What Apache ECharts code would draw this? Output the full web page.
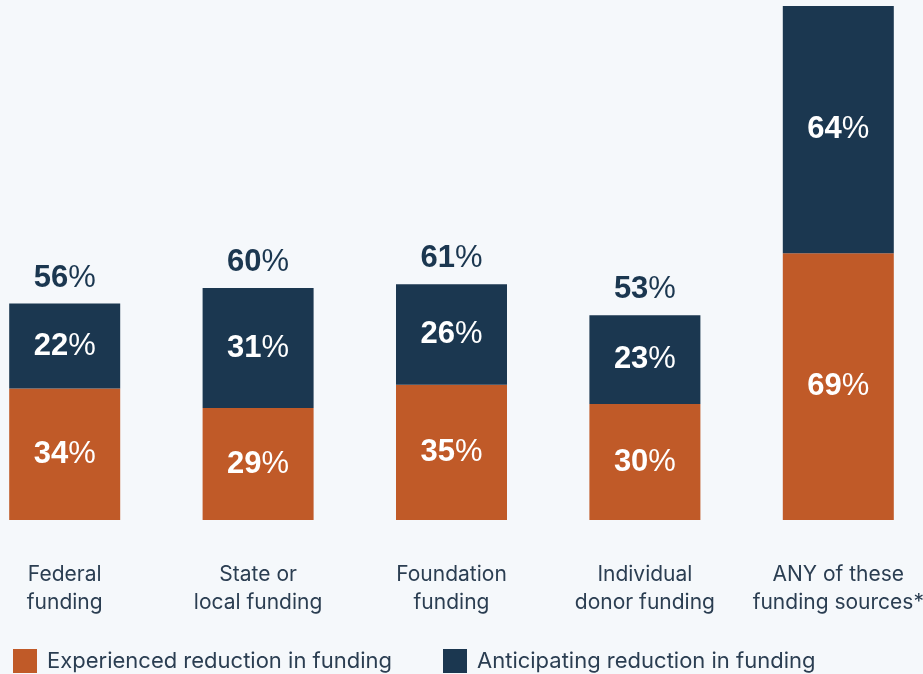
<!DOCTYPE html>
<html>
<head>
    <meta charset="utf-8">
    <title>Funding reductions</title>
    <script src="https://cdn.jsdelivr.net/npm/echarts@6/dist/echarts.min.js"></script>
    <style>
        html, body { margin: 0; padding: 0; background: #F5F8FB; }
    </style>
</head>
<body>
    <div id="main" style="width:923px;height:674px;"></div>
    <script type="text/javascript">
        // data
        var categories = ["Federal\nfunding", "State or\nlocal funding", "Foundation\nfunding", "Individual\ndonor funding", "ANY of these\nfunding sources*"];
        var experienced = [34, 29, 35, 30, 69];
        var anticipating = [22, 31, 26, 23, 64];
        var totals = [56, 60, 61, 53, null];

        var orange = "#C05A28";
        var navy = "#1B3750";
        var textColor = "#2B3E52";
        var numFont = "Liberation Sans";

        function pctRich(color) {
            return {
                b: { color: color, fontSize: 31, fontWeight: "bold", fontFamily: numFont },
                p: { color: color, fontSize: 31, fontWeight: "normal", fontFamily: numFont }
            };
        }

        function pctLabel(color) {
            return {
                show: true,
                position: "inside",
                formatter: function (p) { return "{b|" + p.value + "}{p|%}"; },
                rich: pctRich(color)
            };
        }

        var myChart = echarts.init(document.getElementById("main"));
        var option = {
            backgroundColor: "#F5F8FB",
            animation: false,
            grid: { left: -32, right: -12, top: 6, bottom: 154, outerBoundsMode: "none", containLabel: false },
            legend: {
                bottom: -4,
                left: 8,
                itemWidth: 24,
                itemHeight: 24,
                itemGap: 51,
                icon: "rect",
                textStyle: { color: textColor, fontSize: 22, fontFamily: "Inter", padding: [0, 0, 0, 5] },
                data: ["Experienced reduction in funding", "Anticipating reduction in funding"]
            },
            xAxis: {
                type: "category",
                data: categories,
                axisLine: { show: false },
                axisTick: { show: false },
                axisLabel: {
                    color: textColor,
                    fontSize: 21,
                    fontFamily: "Inter",
                    lineHeight: 28,
                    margin: 41,
                    interval: 0
                }
            },
            yAxis: {
                type: "value",
                min: 0,
                max: 133,
                show: false
            },
            series: [{
                name: "Experienced reduction in funding",
                type: "bar",
                stack: "all",
                barWidth: 111,
                itemStyle: { color: orange },
                label: pctLabel("#FFFFFF"),
                data: experienced
            }, {
                name: "Anticipating reduction in funding",
                type: "bar",
                stack: "all",
                barWidth: 111,
                itemStyle: { color: navy },
                label: pctLabel("#FFFFFF"),
                data: anticipating
            }, {
                // invisible series to carry the total labels on top
                name: "total",
                type: "bar",
                stack: "all",
                barWidth: 111,
                itemStyle: { color: "transparent" },
                label: {
                    show: true,
                    position: "insideBottom",
                    distance: 10,
                    formatter: function (p) {
                        var t = totals[p.dataIndex];
                        return t == null ? "" : "{b|" + t + "}{p|%}";
                    },
                    rich: pctRich(navy)
                },
                data: totals.map(function (t) { return t == null ? 0 : 0.0001; })
            }]
        };
        myChart.setOption(option);
    </script>
</body>
</html>
